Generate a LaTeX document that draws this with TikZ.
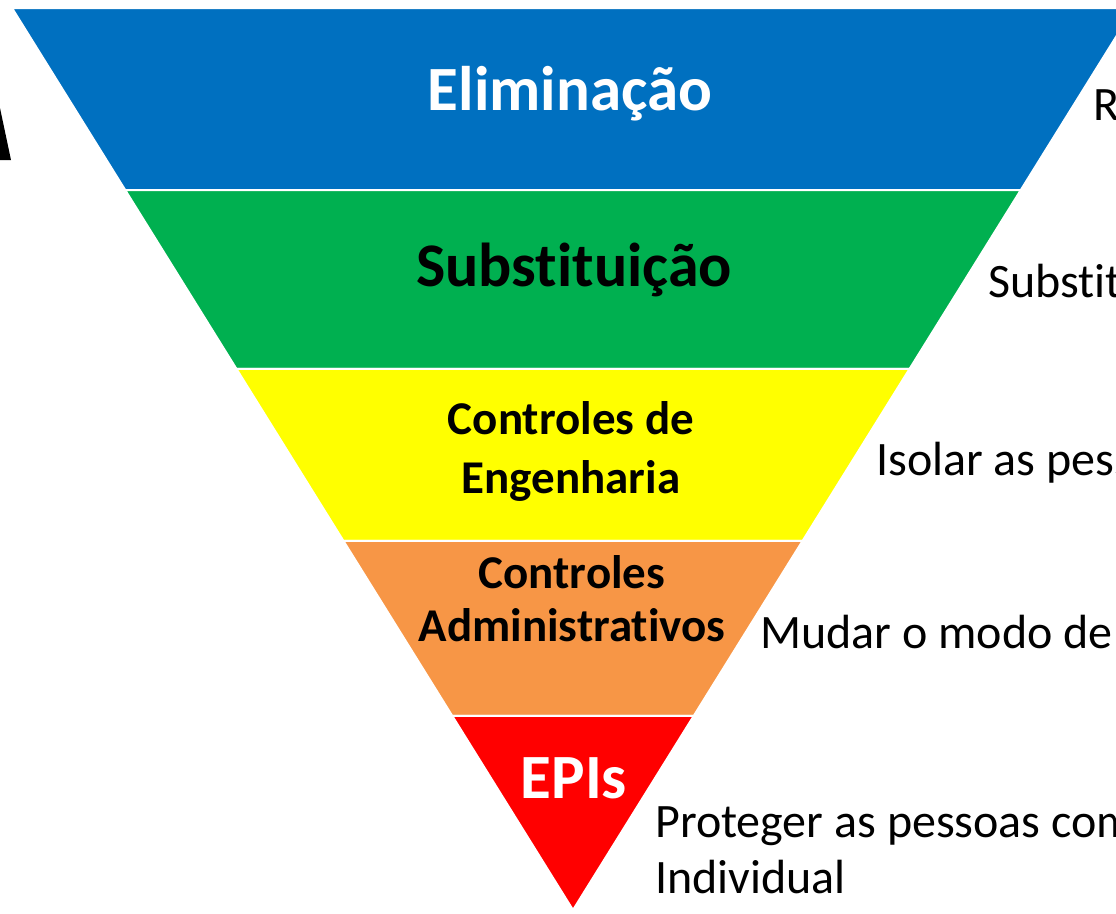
\documentclass[tikz,border=0pt]{standalone}
\usepackage{fontspec}
\setmainfont{Carlito}[Ligatures=NoCommon]
\usetikzlibrary{calc,positioning}
\definecolor{hzBlue}{HTML}{0070C0}
\definecolor{hzGreen}{HTML}{00B050}
\definecolor{hzYellow}{HTML}{FFFF00}
\definecolor{hzOrange}{HTML}{F79646}
\definecolor{hzRed}{HTML}{FF0000}
\tikzset{
 pyramid/.style={line join=miter,x=1pt,y=-1pt},
 band/.style={draw=white,line width=2pt},
 tier/.style={font=\bfseries\fontsize{#1}{56}\selectfont,align=center,inner sep=0pt,anchor=base},
 tierW/.style={tier=#1,text=white},
 note/.style={font=\fontsize{#1}{56}\selectfont,align=left,inner sep=0pt,anchor=base west}
}

\begin{document}
\begin{tikzpicture}[pyramid]
 \useasboundingbox (0,0) rectangle (1116,913);
 \clip (0,0) rectangle (1116,913);
 \coordinate (tl) at (12,8); \coordinate (tr) at (1134,8);
 \coordinate (apex) at (573,910);
 % band edges
 \coordinate (l1) at ($(tl)!0.2018!(apex)$); \coordinate (r1) at ($(tr)!0.2018!(apex)$);
 \coordinate (l2) at ($(tl)!0.4002!(apex)$); \coordinate (r2) at ($(tr)!0.4002!(apex)$);
 \coordinate (l3) at ($(tl)!0.5909!(apex)$); \coordinate (r3) at ($(tr)!0.5909!(apex)$);
 \coordinate (l4) at ($(tl)!0.7849!(apex)$); \coordinate (r4) at ($(tr)!0.7849!(apex)$);
 \fill[black] (0,108)--(11,160)--(0,160)--cycle;
 \filldraw[band,fill=hzBlue] (tl)--(tr)--(r1)--(l1)--cycle;
 \filldraw[band,fill=hzGreen] (l1)--(r1)--(r2)--(l2)--cycle;
 \filldraw[band,fill=hzYellow] (l2)--(r2)--(r3)--(l3)--cycle;
 \filldraw[band,fill=hzOrange] (l3)--(r3)--(r4)--(l4)--cycle;
 \filldraw[band,fill=hzRed] (l4)--(r4)--(apex)--cycle;
 \node[tierW=63] (elim) at (570,110) {Eliminação};
 \node[tier=62] (subst) at (574,286) {Substituição};
 \node[tier=47] (eng) at (571,493) {Controles de\\[3pt]Engenharia};
 \node[tier=47] (adm) at (572,641) {Controles\\[-3pt]Administrativos};
 \node[tierW=63] (epi) at (574,798) {EPIs};
 \node[note=48] (elimTxt) at (1093,120) {R};
 \node[note=48] (substTxt) at (988,297) {Substit};
 \node[note=48] (engTxt) at (876,475) {Isolar as pess};
 \node[note=48] (admTxt) at (760,648) {Mudar o modo de};
 \node[note=48] (epiTxt) at (655,893) {Proteger as pessoas com\\Individual};
\end{tikzpicture}
\end{document}
